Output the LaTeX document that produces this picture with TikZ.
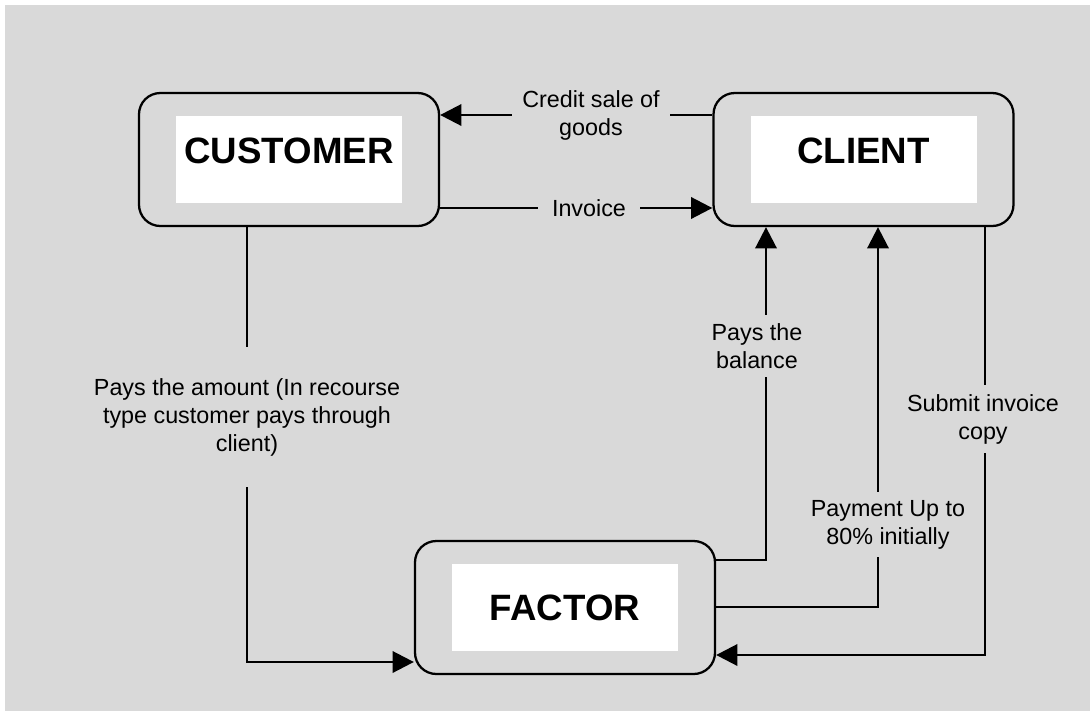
\documentclass[tikz,border=0pt]{standalone}
\usepackage{fontspec}
\setmainfont{Liberation Sans}
\usetikzlibrary{arrows.meta,calc}
\definecolor{backdrop}{RGB}{217,217,217}

\begin{document}
\begin{tikzpicture}[x=0.75pt,y=-0.75pt,
 party/.style={draw,line width=1.7pt,rounded corners=16pt,minimum width=225pt,minimum height=99.75pt,inner sep=0pt},
 pane/.style={fill=white,minimum width=169.5pt,minimum height=65.25pt,inner sep=0pt,font=\fontsize{27.5}{33}\selectfont\bfseries},
 lbl/.style={font=\fontsize{17.5}{21}\selectfont,align=center,inner sep=0pt},
 link/.style={line width=2pt},
 arr/.style={link,-{Triangle[length=16pt,width=16pt]}}]
\useasboundingbox (0,0) rectangle (1090,711);
\fill[backdrop] (5,5) rectangle (1090,711);
% the three parties
\node[party] (customer) at (289,159.5) {};
\node[party] (client) at (863.5,159.5) {};
\node[party] (factor) at (565,607.5) {};
\node[pane,text depth=12.8pt] (customerpane) at (customer) {CUSTOMER};
\node[pane,text depth=12.8pt] (clientpane) at (client) {CLIENT};
\node[pane] (factorpane) at (factor) {FACTOR};
% labels, each as wide or tall as the break in its line
\node[lbl,minimum width=118.5pt] (credit) at (591,115) {Credit sale of\\goods};
\node[lbl,minimum width=76.5pt] (invoice) at (589,208) {Invoice};
\node[lbl,minimum height=105pt] (amount) at (247,417) {Pays the amount (In recourse\\type customer pays through\\client)};
\node[lbl,minimum height=46.5pt] (balance) at (757,346) {Pays the\\balance};
\node[lbl,minimum height=48.75pt] (payment) at (888,524.5) {Payment Up to\\80\% initially};
\node[lbl,minimum height=51pt] (submit) at (983,419) {Submit invoice\\copy};
\coordinate (am) at (247,662);
\coordinate (bl) at (766,560);
\coordinate (pm) at (878,607);
\coordinate (sb) at (985,655);
% connectors
\draw[link] (client.west |- credit.east) -- (credit.east);
\draw[arr] (credit.west) -- (customer.east |- credit.west);
\draw[link] (customer.east |- invoice.west) -- (invoice.west);
\draw[arr] (invoice.east) -- (client.west |- invoice.east);
\draw[link] (customer.south -| amount) -- (amount.north);
\draw[arr] (amount.south) -- (am) -- (factor.west |- am);
\draw[link] (factor.east |- bl) -- (bl) -- (balance.south -| bl);
\draw[arr] (balance.north -| bl) -- (client.south -| bl);
\draw[link] (factor.east |- pm) -- (pm) -- (payment.south -| pm);
\draw[arr] (payment.north -| pm) -- (client.south -| pm);
\draw[link] (client.south -| sb) -- (submit.north -| sb);
\draw[arr] (submit.south -| sb) -- (sb) -- (factor.east |- sb);
\end{tikzpicture}
\end{document}
